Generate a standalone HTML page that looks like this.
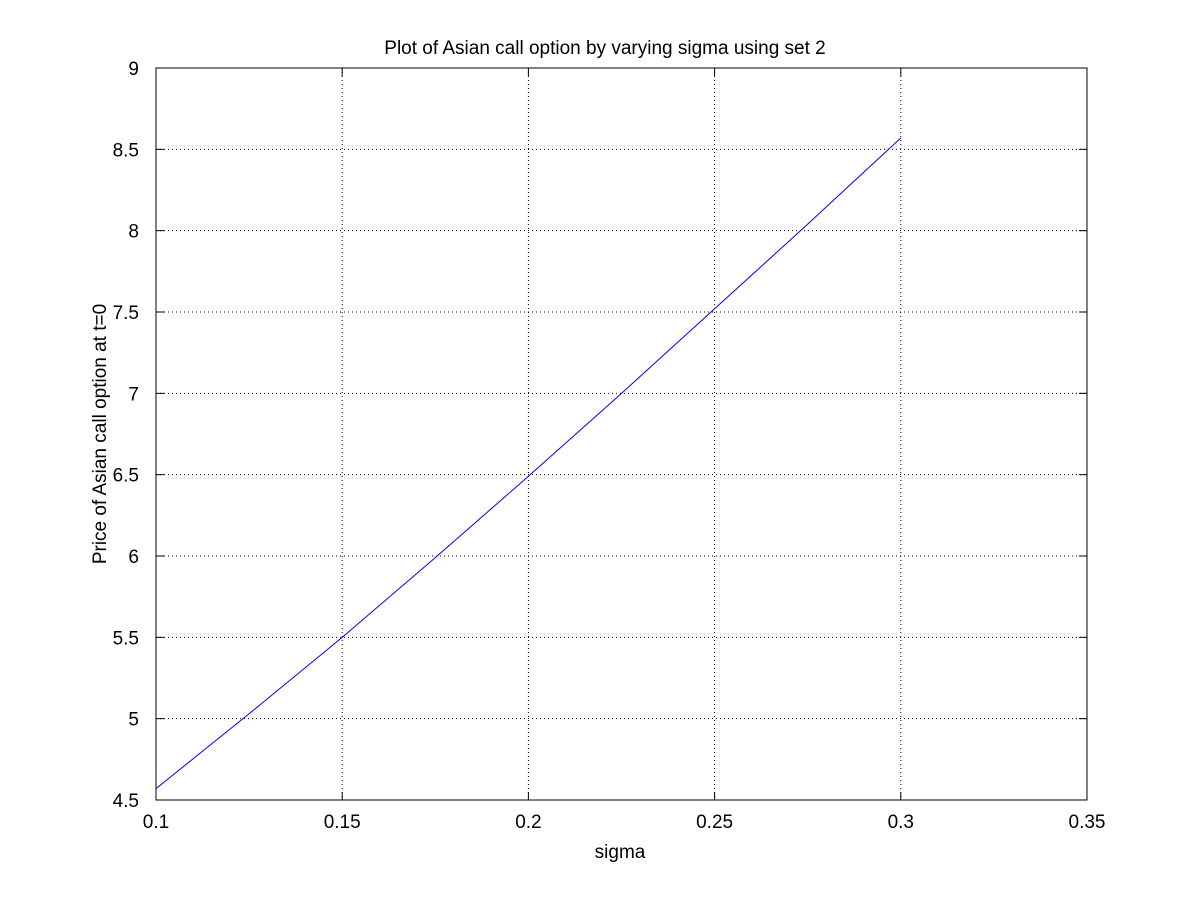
<!DOCTYPE html>
<html><head><meta charset="utf-8"><style>
body{margin:0;background:#fff;}
svg text{font-family:"Liberation Sans",sans-serif;font-size:19px;fill:#000;}
</style></head><body>
<svg id="chart" width="1200" height="900">
<rect x="0" y="0" width="1200" height="900" fill="#fff"/>
<g id="grid"></g><g id="axes"></g><g id="series"></g>
<text x="605" y="54" text-anchor="middle">Plot of Asian call option by varying sigma using set 2</text>
<text x="620" y="858" text-anchor="middle">sigma</text>
<text transform="translate(106,434) rotate(-90)" text-anchor="middle">Price of Asian call option at t=0</text>
</svg>
<script>
const xTicks=[0.1,0.15,0.2,0.25,0.3,0.35];
const xTickLabels=["0.1","0.15","0.2","0.25","0.3","0.35"];
const yTicks=[4.5,5,5.5,6,6.5,7,7.5,8,8.5,9];
const yTickLabels=["4.5","5","5.5","6","6.5","7","7.5","8","8.5","9"];
const sigmaValues=[0.1,0.125,0.15,0.175,0.2,0.225,0.25,0.275,0.3];
const priceValues=[4.57,5.03,5.50,5.99,6.49,7.00,7.52,8.04,8.57];
const L=156,R=1087,T=68,B=800;
const sx=v=>L+(v-0.1)/(0.35-0.1)*(R-L);
const sy=v=>B-(v-4.5)/(9-4.5)*(B-T);
const NS="http://www.w3.org/2000/svg";
function mk(p,tag,a){const e=document.createElementNS(NS,tag);for(const k in a)e.setAttribute(k,a[k]);p.appendChild(e);return e;}
const grid=document.getElementById('grid'),axes=document.getElementById('axes'),series=document.getElementById('series');
xTicks.forEach((v,i)=>{const x=sx(v);
 if(i>0&&i<xTicks.length-1){const g=mk(grid,'line',{x1:x,x2:x,y1:T,y2:B,stroke:'#000','stroke-dasharray':'1,3','stroke-width':1});
 
 }
 mk(axes,'line',{x1:x,x2:x,y1:B,y2:B-8,stroke:'#000'});mk(axes,'line',{x1:x,x2:x,y1:T,y2:T+8,stroke:'#000'});
 const t=mk(axes,'text',{x:x,y:B+28,'text-anchor':'middle'});t.textContent=xTickLabels[i];
 
 
});
yTicks.forEach((v,i)=>{const y=sy(v);
 if(i>0&&i<yTicks.length-1){const g=mk(grid,'line',{x1:L,x2:R,y1:y,y2:y,stroke:'#000','stroke-dasharray':'1,3','stroke-width':1});
 
 }
 mk(axes,'line',{x1:L,x2:L+8,y1:y,y2:y,stroke:'#000'});mk(axes,'line',{x1:R,x2:R-8,y1:y,y2:y,stroke:'#000'});
 const t=mk(axes,'text',{x:L-17,y:y+7,'text-anchor':'end'});t.textContent=yTickLabels[i];
 
 
});
const box=mk(axes,'rect',{x:L,y:T,width:R-L,height:B-T,fill:'none',stroke:'#000'});


const line=mk(series,'polyline',{points:sigmaValues.map((s,i)=>sx(s)+','+sy(priceValues[i])).join(' '),fill:'none',stroke:'#0000ff','stroke-width':1});


</script>
</body></html>
